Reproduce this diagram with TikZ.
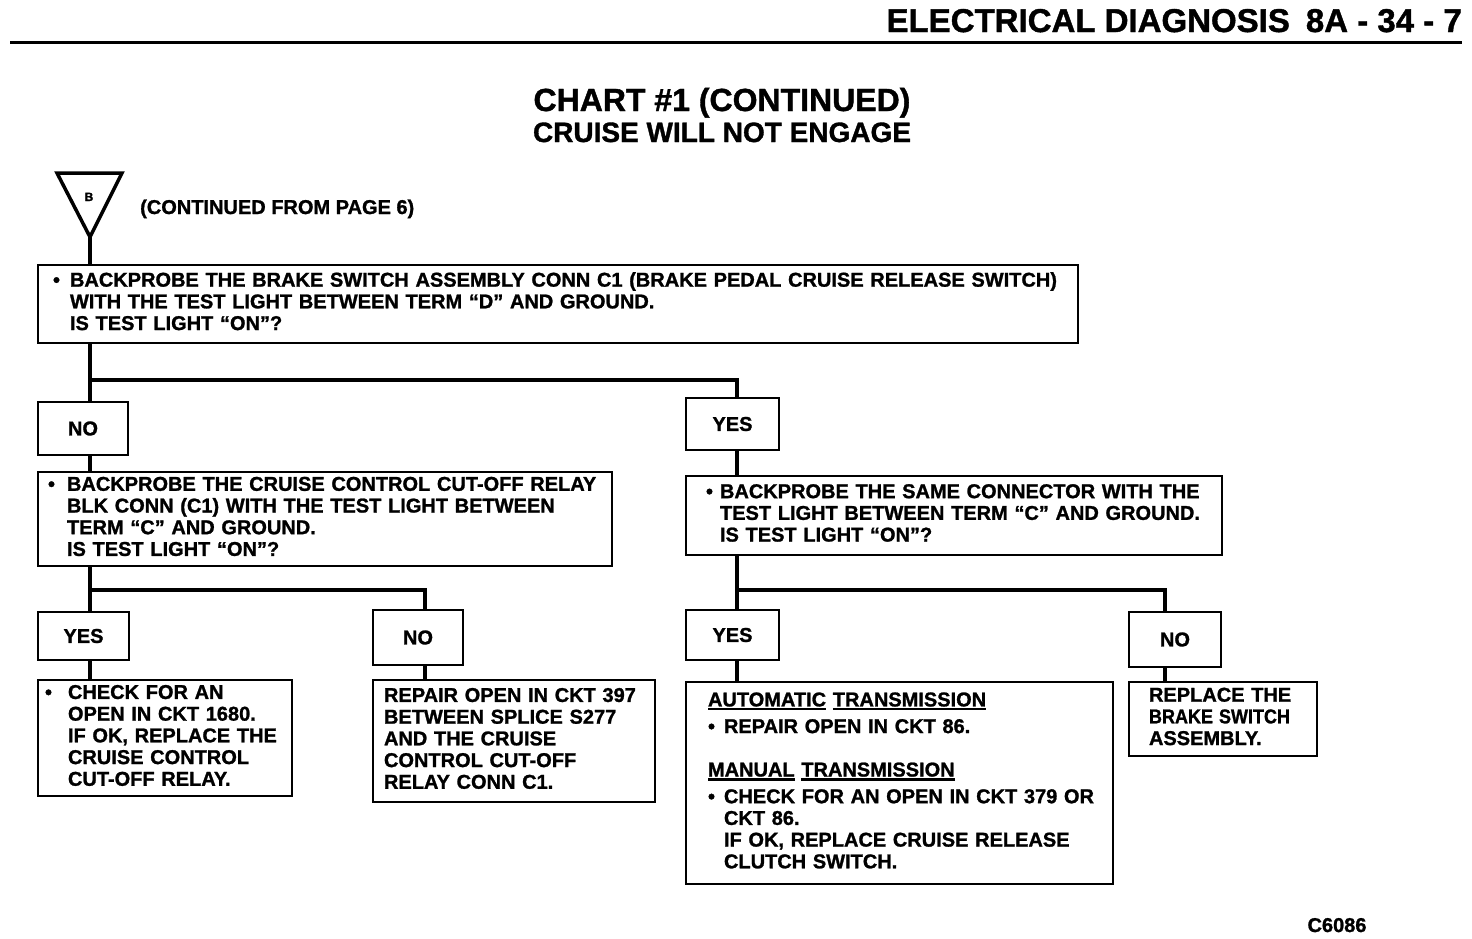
\documentclass[tikz,border=0pt]{standalone}
\usepackage{graphicx}
\usepackage{fontspec}
\setmainfont{Liberation Sans}[BoldFeatures={FakeBold=1.2}]
\newcommand\bodyfont{\fontsize{20}{21.7}\selectfont\bfseries}
\newcommand\bul[1][17pt]{\makebox[#1][l]{\textbullet}}
\newcommand\myul[1]{\leavevmode\setbox0\hbox{#1}\rlap{\rule[-4pt]{\wd0}{2.2pt}}\box0\relax}
\begin{document}
\begin{tikzpicture}[x=1pt,y=1pt,
  boxst/.style={draw, line width=2.6pt, inner ysep=0pt, font=\bodyfont, align=left},
  lab/.style={draw, line width=2.6pt, inner sep=0pt, font=\bodyfont},
  conn/.style={line width=4.5pt}]
\useasboundingbox[fill=white] (0,0) rectangle (1472,-938);
% header
\node[anchor=base east, inner sep=0pt, font=\fontsize{33}{33}\selectfont\bfseries] (hdr) at (1462,-32) {ELECTRICAL DIAGNOSIS\hspace{16pt}8A - 34 - 7};
\draw[line width=3pt] (10,-42) -- (1462,-42);
\node[anchor=base, inner sep=0pt, font=\fontsize{32}{32}\selectfont\bfseries] (t1) at (722,-111) {CHART \#1 (CONTINUED)};
\node[anchor=base, inner sep=0pt, font=\fontsize{28}{28}\selectfont\bfseries] (t2) at (722,-142) {CRUISE WILL NOT ENGAGE};
% triangle
\coordinate (tribot) at (90,-237);
\draw[line width=3.5pt, line join=miter] (57,-173) -- (122,-173) -- (tribot) -- cycle;
\node[anchor=base, inner sep=0pt, font=\fontsize{12}{12}\selectfont\bfseries] (lblB) at (89,-201) {B};
\node[anchor=base west, inner sep=0pt, font=\bodyfont] (cont) at (140,-214) {(CONTINUED FROM PAGE 6)};
% columns
\coordinate (cL) at (90,0);
\coordinate (cM) at (425,0);
\coordinate (cR) at (737,0);
\coordinate (cF) at (1165,0);
\coordinate (s1) at (0,-380);
\coordinate (s2) at (0,-590);
% boxes
\node[boxst, inner xsep=15pt, text width=1010pt, minimum height=78pt] (b1) at (558,-304) {%
\begin{tabular}{@{}l@{}l@{}}
\bul & BACKPROBE THE BRAKE SWITCH ASSEMBLY CONN C1 (BRAKE PEDAL CRUISE RELEASE SWITCH)\\
 & WITH THE TEST LIGHT BETWEEN TERM “D” AND GROUND.\\
 & IS TEST LIGHT “ON”?
\end{tabular}};
\node[lab, minimum width=90pt, minimum height=53pt] (no1) at (83,-428.5) {NO};
\node[lab, minimum width=93pt, minimum height=52pt] (yes1) at (732.5,-424) {YES};
\node[boxst, inner xsep=10pt, text width=554pt, minimum height=94pt] (b2) at (325,-519) {%
\begin{tabular}{@{}l@{}l@{}}
\bul[19pt] & BACKPROBE THE CRUISE CONTROL CUT-OFF RELAY\\
 & BLK CONN (C1) WITH THE TEST LIGHT BETWEEN\\
 & TERM “C” AND GROUND.\\
 & IS TEST LIGHT “ON”?
\end{tabular}};
\node[lab, minimum width=91pt, minimum height=48pt] (yes2) at (83.5,-636) {YES};
\node[lab, minimum width=90pt, minimum height=55pt] (no2) at (418,-637.5) {NO};
\node[boxst, inner xsep=7pt, text width=240pt, minimum height=116pt] (ry2) at (165,-738) {%
\begin{tabular}{@{}l@{}l@{}}
\bul[23pt] & CHECK FOR AN\\
 & OPEN IN CKT 1680.\\
 & IF OK, REPLACE THE\\
 & CRUISE CONTROL\\
 & CUT-OFF RELAY.
\end{tabular}};
\node[boxst, inner xsep=11pt, text width=260pt, minimum height=122pt] (rn2) at (514,-741) {%
\begin{tabular}{@{}l@{}}
REPAIR OPEN IN CKT 397\\
BETWEEN SPLICE S277\\
AND THE CRUISE\\
CONTROL CUT-OFF\\
RELAY CONN C1.
\end{tabular}};
\node[boxst, inner xsep=20pt, text width=496pt, minimum height=79pt] (b3) at (954,-515.5) {%
\begin{tabular}{@{}l@{}l@{}}
\bul[14pt] & BACKPROBE THE SAME CONNECTOR WITH THE\\
 & TEST LIGHT BETWEEN TERM “C” AND GROUND.\\
 & IS TEST LIGHT “ON”?
\end{tabular}};
\node[lab, minimum width=93pt, minimum height=50pt] (yes3) at (732.5,-635) {YES};
\node[lab, minimum width=92pt, minimum height=55pt] (no3) at (1175,-639.5) {NO};
\node[boxst, inner xsep=22pt, text width=383pt, minimum height=202pt] (b4) at (899.5,-783) {%
\begin{tabular}{@{}l@{}l@{}}
\multicolumn{2}{@{}l@{}}{\myul{AUTOMATIC} \myul{TRANSMISSION}}\\[5pt]
\bul[16pt] & REPAIR OPEN IN CKT 86.\\
 & \\
\multicolumn{2}{@{}l@{}}{\myul{MANUAL} \myul{TRANSMISSION}}\\[5pt]
\bul[16pt] & CHECK FOR AN OPEN IN CKT 379 OR\\
 & CKT 86.\\
 & IF OK, REPLACE CRUISE RELEASE\\
 & CLUTCH SWITCH.
\end{tabular}};
\node[boxst, inner xsep=20pt, text width=148pt, minimum height=74pt] (b5) at (1223,-719) {%
\begin{tabular}{@{}l@{}}
REPLACE THE\\
\scalebox{0.9}[1]{BRAKE SWITCH}\\
ASSEMBLY.
\end{tabular}};
\node[anchor=base, inner sep=0pt, font=\bodyfont] (code) at (1337,-932) {C6086};
% connectors
\draw[conn] (tribot) -- (tribot |- b1.north);
\draw[conn] (b1.south -| cL) -- (no1.north -| cL);
\draw[conn, line join=miter] (cL |- s1) -| (yes1.north -| cR);
\draw[conn] (no1.south -| cL) -- (b2.north -| cL);
\draw[conn] (b2.south -| cL) -- (yes2.north -| cL);
\draw[conn, line join=miter] (cL |- s2) -| (no2.north -| cM);
\draw[conn] (yes2.south -| cL) -- (ry2.north -| cL);
\draw[conn] (no2.south -| cM) -- (rn2.north -| cM);
\draw[conn] (yes1.south -| cR) -- (b3.north -| cR);
\draw[conn] (b3.south -| cR) -- (yes3.north -| cR);
\draw[conn, line join=miter] (cR |- s2) -| (no3.north -| cF);
\draw[conn] (yes3.south -| cR) -- (b4.north -| cR);
\draw[conn] (no3.south -| cF) -- (b5.north -| cF);
\end{tikzpicture}
\end{document}
